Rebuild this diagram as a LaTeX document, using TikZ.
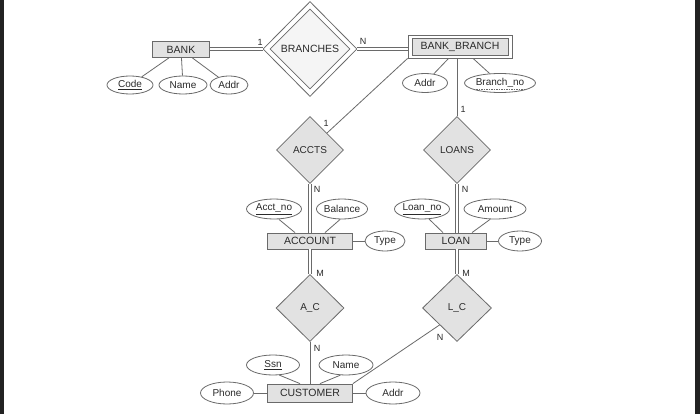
\documentclass[tikz,border=0pt]{standalone}
\usepackage{fontspec}
\setmainfont{Liberation Sans}
\usetikzlibrary{shapes.geometric,calc}
\definecolor{ln}{HTML}{6A6A6A}
\definecolor{tx}{HTML}{2A2A2A}
\definecolor{fillg}{HTML}{E2E2E2}
\definecolor{frame}{HTML}{222222}
\newcommand{\keyul}[1]{$\underline{\hbox{#1}}$}
\begin{document}
\begin{tikzpicture}[x=1pt,y=-1pt,
 ent/.style={draw=ln, fill=fillg, line width=0.8pt, minimum width=#1, minimum height=16pt, inner sep=0, text=tx, font=\fontsize{10.5}{12}\selectfont},
 att/.style={ellipse, draw=ln, fill=white, line width=0.8pt, minimum width=#1, minimum height=20pt, inner sep=0, text=tx, font=\fontsize{10}{11}\selectfont},
 rel/.style={diamond, draw=ln, fill=fillg, line width=0.8pt, minimum width=67pt, minimum height=67pt, inner sep=0, text=tx, font=\fontsize{10}{12}\selectfont},
 con/.style={draw=ln, line width=0.8pt},
 dcon/.style={draw=ln, double=white, double distance=2pt, line width=0.7pt},
 card/.style={text=tx, font=\fontsize{9}{10}\selectfont, inner sep=0}
]
\useasboundingbox (0,0) rectangle (700,414);
\fill[white] (0,0) rectangle (700,414);
\fill[frame] (0,0) rectangle (4,414);
\fill[frame] (695,0) rectangle (700,414);

% entities
\node[ent=57pt] (bank) at (181,49.5) {BANK};
\node[draw=ln, fill=white, line width=0.8pt, minimum width=104pt, minimum height=23pt, inner sep=0] (bbo) at (460,46.5) {};
\node[ent=96pt, minimum height=17pt] (bb) at (460,46.5) {BANK\_BRANCH};
\node[ent=85pt] (account) at (310,241) {ACCOUNT};
\node[ent=61pt] (loan) at (456,241) {LOAN};
\node[ent=85pt, minimum height=18pt] (customer) at (310,393) {CUSTOMER};

% relationships
\node[diamond, draw=ln, fill=white, line width=0.8pt, minimum width=94pt, minimum height=95pt, inner sep=0] (bro) at (310,49) {};
\node[rel, minimum width=80pt, minimum height=80pt, fill=gray!8, font=\fontsize{10.5}{12}\selectfont] (br) at (310,49) {BRANCHES};
\node[rel] (accts) at (310,150) {ACCTS};
\node[rel] (loans) at (457,150) {LOANS};
\node[rel, minimum width=68pt] (ac) at (310,308) {A\_C};
\node[rel, minimum width=69pt] (lc) at (457,308) {L\_C};

% attributes
\node[att=46pt, minimum height=18pt] (code) at (130,85) {\keyul{Code}};
\node[att=48pt, minimum height=18pt] (bname) at (183,85) {Name};
\node[att=38pt, minimum height=18pt] (baddr) at (229,85) {Addr};
\node[att=45pt, minimum height=19pt] (bbaddr) at (425,83) {Addr};
\node[att=71pt, minimum height=19pt] (bno) at (500,83) {Branch\_no};
\node[att=55pt] (acctno) at (274,209) {\keyul{Acct\_no}};
\node[att=51pt] (balance) at (342,209) {Balance};
\node[att=40pt] (typea) at (385,241) {Type};
\node[att=53pt] (loanno) at (422,209) {\keyul{Loan\_no}};
\node[att=62pt] (amount) at (495,209) {Amount};
\node[att=43pt] (typel) at (520,241) {Type};
\node[att=53pt] (ssn) at (273,365) {\keyul{Ssn}};
\node[att=54pt] (cname) at (346,365) {Name};
\node[att=53pt, minimum height=22pt] (phone) at (227,393) {Phone};
\node[att=54pt, minimum height=22pt] (caddr) at (393,393) {Addr};
\draw[draw=ln, line width=0.7pt, dash pattern=on 1.5pt off 1pt] ($(bno.center)+(-24,6)$) -- ($(bno.center)+(24,6)$);

% relationship connectors
\draw[dcon] (bank.east |- 0,49) -- (bro.west);
\draw[dcon] (bro.east) -- (bro.east -| bbo.west);
\draw[con] (loans.north |- bbo.south) -- (loans.north);
\draw[con] (bbo.south west) -- (accts.north east);
\draw[dcon] (accts.south) -- (accts.south |- account.north);
\draw[dcon] (ac.north |- account.south) -- (ac.north);
\draw[dcon] (loans.south) -- (loans.south |- loan.north);
\draw[dcon] (lc.north |- loan.south) -- (lc.north);
\draw[con] (ac.south) -- (ac.south |- customer.north);
\draw[con] (lc.south west) -- (customer.north east);

% cardinalities
\node[card] (c1) at (260,42) {1};
\node[card] (c2) at (363,41) {N};
\node[card] (c3) at (463,109) {1};
\node[card] (c4) at (326,123) {1};
\node[card] (c5) at (317,189) {N};
\node[card] (c6) at (465,189) {N};
\node[card] (c7) at (320,273) {M};
\node[card] (c8) at (466,273) {M};
\node[card] (c9) at (317,348) {N};
\node[card] (c10) at (440,337) {N};

% attribute connectors
\draw[con] (code) -- (bank);
\draw[con] (bname) -- (bank);
\draw[con] (baddr) -- (bank);
\draw[con] (bbaddr) -- (bbo);
\draw[con] (bno) -- (bbo);
\draw[con] (acctno.-65) -- ($(account.north)+(-15,0)$);
\draw[con] (balance.-100) -- ($(account.north)+(15,0)$);
\draw[con] (account.east) -- (typea.west);
\draw[con] (loanno.-55) -- ($(loan.north)+(-13,0)$);
\draw[con] (amount.-115) -- ($(loan.north)+(16,0)$);
\draw[con] (loan.east) -- (typel.west);
\draw[con] (ssn.-58) -- ($(customer.north)+(-10,0)$);
\draw[con] (cname.-119) -- ($(customer.north)+(10,0)$);
\draw[con] (phone.east) -- (customer.west);
\draw[con] (customer.east) -- (caddr.west);
\end{tikzpicture}
\end{document}
